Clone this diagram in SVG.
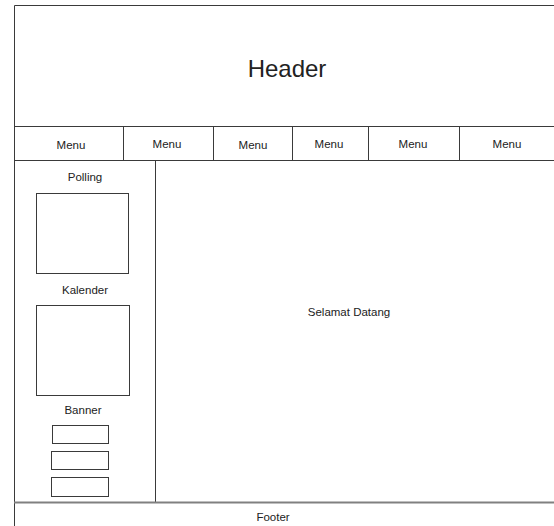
<svg xmlns="http://www.w3.org/2000/svg" width="554" height="526" viewBox="0 0 554 526">
<style>
.ln{stroke:#3a3a3a;stroke-width:1;fill:none}
.bx{stroke:#3a3a3a;stroke-width:1;fill:#fff}
.t{font-family:"Liberation Sans",Arial,sans-serif;font-size:11.5px;fill:#222;text-anchor:middle}
</style>
<rect width="554" height="526" fill="#fff"/>
<g id="frame">
<path class="ln" d="M14.5,530 V5.5 H560"/>
</g>
<g id="header">
<text class="t" x="287" y="77" style="font-size:24px">Header</text>
</g>
<g id="menubar">
<path class="ln" d="M14,126.5 H560 M14,160.5 H560 M123.5,126 V160 M213.5,126 V160 M292.5,126 V160 M368.5,126 V160 M459.5,126 V160"/>
<text class="t" x="71" y="149">Menu</text>
<text class="t" x="167" y="148">Menu</text>
<text class="t" x="253" y="149">Menu</text>
<text class="t" x="329" y="148">Menu</text>
<text class="t" x="413" y="148">Menu</text>
<text class="t" x="507" y="148">Menu</text>
</g>
<g id="sidebar">
<path class="ln" d="M155.5,160 V502"/>
<text class="t" x="85" y="181">Polling</text>
<rect id="polling-box" class="bx" x="36.5" y="193.5" width="92" height="80"/>
<text class="t" x="85" y="294">Kalender</text>
<rect id="kalender-box" class="bx" x="36.5" y="305.5" width="93" height="90"/>
<text class="t" x="83" y="414">Banner</text>
<rect id="banner1" class="bx" x="52.5" y="425.5" width="56" height="18"/>
<rect id="banner2" class="bx" x="51.5" y="451.5" width="57" height="18"/>
<rect id="banner3" class="bx" x="51.5" y="477.5" width="57" height="19"/>
</g>
<g id="content">
<text class="t" x="349" y="316">Selamat Datang</text>
</g>
<g id="footer">
<path d="M14,502.5 H560" stroke="#808080" stroke-width="2" fill="none"/>
<text class="t" x="273" y="521">Footer</text>
</g>
</svg>
